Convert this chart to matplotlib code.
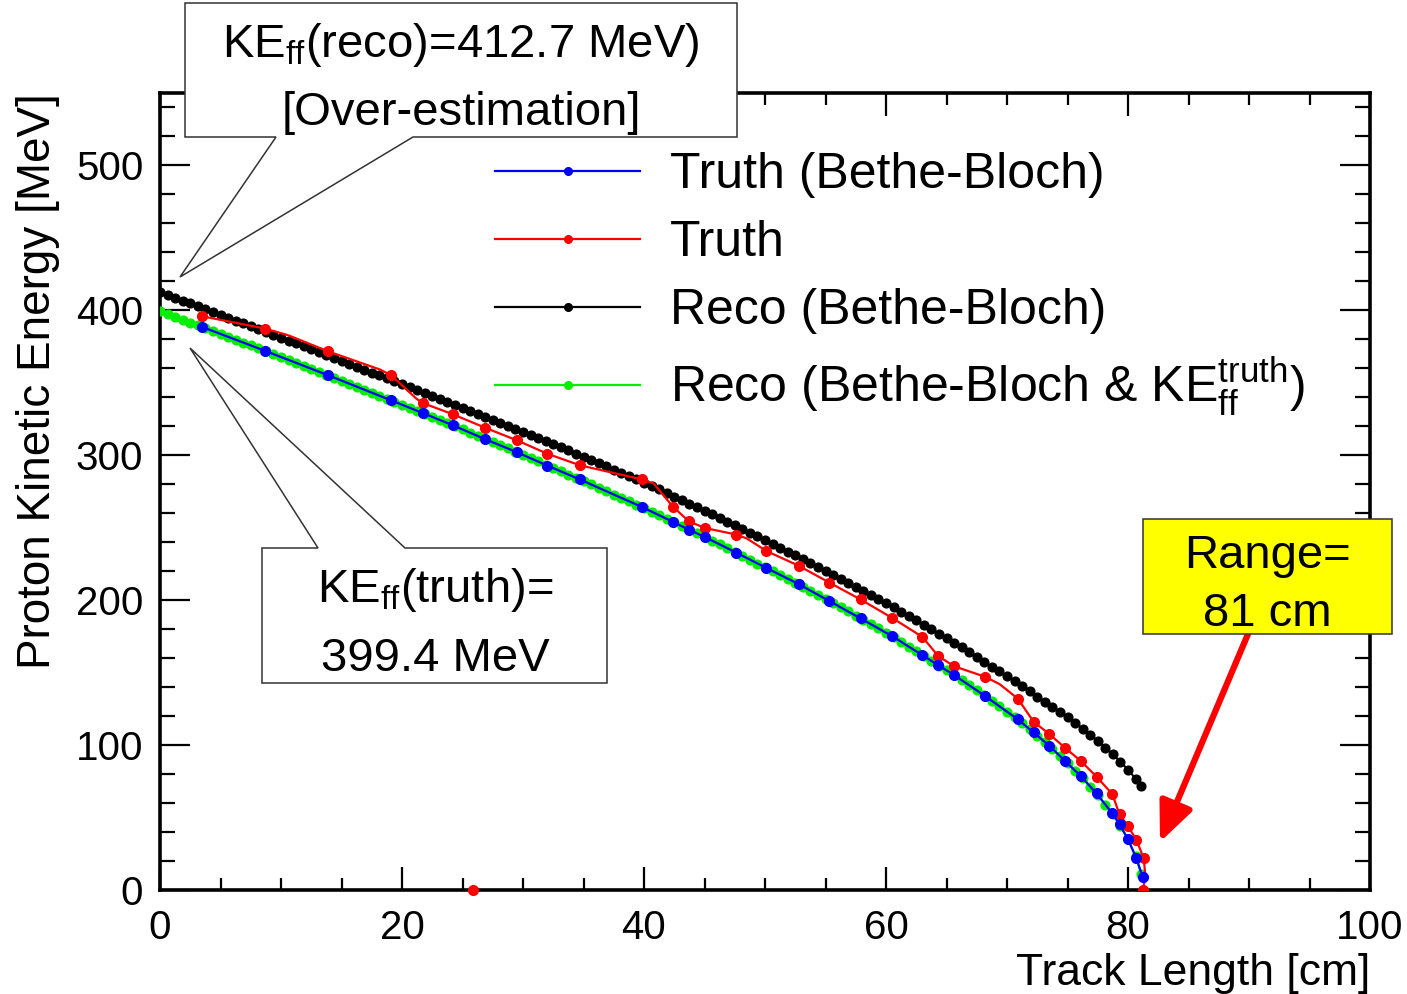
import numpy as np
import matplotlib
matplotlib.use("Agg")
import matplotlib.pyplot as plt
from matplotlib.patches import Polygon
from matplotlib.lines import Line2D
from matplotlib.ticker import MultipleLocator

plt.rcParams['font.family'] = ['Liberation Sans', 'DejaVu Sans']
plt.rcParams['mathtext.fontset'] = 'custom'
plt.rcParams['mathtext.rm'] = 'Liberation Sans'
plt.rcParams['mathtext.it'] = 'Liberation Sans:italic'

# reco hit positions [cm] (shared by the two dense Bethe-Bloch curves)
x_reco = [0.0, 0.62, 1.25, 1.88, 2.5, 3.12, 3.75, 4.38,
          5.0, 5.62, 6.25, 6.88, 7.5, 8.12, 8.75, 9.38,
          10.0, 10.62, 11.25, 11.88, 12.5, 13.12, 13.75, 14.38,
          15.0, 15.62, 16.25, 16.88, 17.5, 18.12, 18.75, 19.38,
          20.0, 20.62, 21.25, 21.88, 22.5, 23.12, 23.75, 24.38,
          25.0, 25.62, 26.25, 26.88, 27.5, 28.12, 28.75, 29.38,
          30.0, 30.62, 31.25, 31.88, 32.5, 33.12, 33.75, 34.38,
          35.0, 35.62, 36.25, 36.88, 37.5, 38.12, 38.75, 39.38,
          40.0, 40.62, 41.25, 41.88, 42.5, 43.12, 43.75, 44.38,
          45.0, 45.62, 46.25, 46.88, 47.5, 48.12, 48.75, 49.38,
          50.0, 50.62, 51.25, 51.88, 52.5, 53.12, 53.75, 54.38,
          55.0, 55.62, 56.25, 56.88, 57.5, 58.12, 58.75, 59.38,
          60.0, 60.62, 61.25, 61.88, 62.5, 63.12, 63.75, 64.38,
          65.0, 65.62, 66.25, 66.88, 67.5, 68.12, 68.75, 69.38,
          70.0, 70.62, 71.25, 71.88, 72.5, 73.12, 73.75, 74.38,
          75.0, 75.62, 76.25, 76.88, 77.5, 78.12, 78.75, 79.38,
          80.0, 80.62, 81.1]

# Reco (Bethe-Bloch), starting from KE_ff(reco) = 412.7 MeV
ke_reco_bb = [412.7, 410.7, 408.8, 406.8, 404.9, 402.9, 400.9, 399.0,
              397.0, 395.0, 393.0, 391.1, 389.1, 387.1, 385.2, 383.2,
              381.2, 379.2, 377.2, 375.2, 373.2, 371.2, 369.2, 367.2,
              365.2, 363.2, 361.2, 359.1, 357.1, 355.1, 353.1, 351.0,
              349.0, 347.0, 345.0, 342.9, 340.9, 338.9, 336.9, 334.8,
              332.8, 330.7, 328.7, 326.6, 324.5, 322.4, 320.4, 318.3,
              316.2, 314.1, 311.9, 309.8, 307.6, 305.5, 303.3, 301.2,
              299.0, 296.8, 294.6, 292.3, 290.1, 287.9, 285.7, 283.4,
              281.2, 278.8, 276.4, 273.9, 271.5, 269.1, 266.7, 264.2,
              261.8, 259.3, 256.7, 254.2, 251.7, 249.1, 246.6, 244.0,
              241.5, 238.9, 236.2, 233.5, 230.9, 228.3, 225.6, 223.0,
              220.3, 217.5, 214.7, 211.9, 209.2, 206.4, 203.6, 200.8,
              198.0, 195.0, 192.0, 189.0, 186.0, 183.0, 180.0, 177.0,
              174.0, 170.7, 167.4, 164.1, 160.8, 157.4, 154.1, 150.8,
              147.5, 144.0, 140.5, 137.0, 133.5, 130.0, 126.5, 123.0,
              119.5, 115.5, 111.4, 107.2, 102.8, 98.3, 93.6, 88.4,
              83.0, 76.9, 72.0]

# Reco (Bethe-Bloch & KE_ff truth), starting from 399.4 MeV
ke_reco_bb_truth = [399.4, 397.4, 395.5, 393.5, 391.6, 389.7, 387.7, 385.8,
                    383.8, 381.8, 379.8, 377.8, 375.8, 373.8, 371.8, 369.8,
                    367.8, 365.8, 363.7, 361.7, 359.7, 357.6, 355.6, 353.5,
                    351.5, 349.4, 347.4, 345.3, 343.2, 341.1, 339.1, 337.0,
                    334.9, 332.8, 330.7, 328.5, 326.4, 324.3, 322.2, 320.0,
                    317.9, 315.7, 313.5, 311.3, 309.1, 306.9, 304.7, 302.5,
                    300.3, 298.0, 295.8, 293.5, 291.3, 289.0, 286.7, 284.5,
                    282.2, 279.9, 277.6, 275.2, 272.9, 270.6, 268.3, 265.9,
                    263.6, 261.1, 258.6, 256.1, 253.7, 251.2, 248.7, 246.2,
                    243.7, 241.1, 238.5, 235.8, 233.2, 230.6, 227.9, 225.3,
                    222.7, 220.0, 217.3, 214.5, 211.8, 209.1, 206.4, 203.6,
                    200.9, 198.0, 195.1, 192.2, 189.3, 186.3, 183.4, 180.5,
                    177.6, 174.4, 171.1, 167.9, 164.6, 161.4, 158.1, 154.9,
                    151.6, 148.3, 144.9, 141.4, 137.9, 134.3, 130.6, 126.9,
                    123.1, 119.2, 115.1, 110.8, 106.4, 101.9, 97.3, 92.5,
                    87.4, 82.4, 77.2, 71.4, 65.5, 59.0, 52.3, 44.2,
                    35.0, 23.2, 11.0]

# truth trajectory points [cm]
x_truth = [3.5, 8.7, 13.9, 19.1, 21.7, 24.2, 26.9, 29.5, 32.0, 34.7,
           39.8, 42.4, 43.7, 45.0, 47.6, 50.1, 52.8, 55.3, 57.9, 60.5,
           63.0, 64.3, 65.6, 68.2, 70.9, 72.2, 73.5, 74.8, 76.1, 77.4,
           78.7, 79.3, 80.0, 80.7, 81.2]

# Truth (Bethe-Bloch)
ke_truth_bb = [388.5, 372.0, 355.2, 337.9, 329.2, 320.7, 311.0, 302.1, 292.9, 283.3,
               264.4, 254.0, 248.7, 243.7, 232.9, 222.3, 211.0, 199.5, 187.4, 175.2,
               162.1, 155.2, 148.5, 133.8, 117.7, 108.7, 99.5, 89.0, 78.6, 66.6,
               52.9, 45.3, 35.0, 21.8, 9.2]

# Truth
x_true = [3.5, 8.7, 13.9, 19.1, 21.7, 24.2, 26.9, 29.5, 32.0, 34.7,
          39.8, 42.4, 43.7, 45.0, 47.6, 50.1, 52.8, 55.3, 57.9, 60.5,
          63.0, 64.3, 65.6, 68.2, 70.9, 72.2, 73.5, 74.8, 76.1, 77.4,
          78.7, 79.3, 80.0, 80.7, 81.3, 81.2]
ke_true = [395.9, 387.4, 371.7, 355.2, 336.1, 328.3, 318.9, 310.3, 301.1, 293.1,
           283.4, 264.4, 254.5, 249.9, 245.3, 234.0, 223.7, 212.2, 200.5, 187.8,
           174.7, 161.6, 154.5, 147.1, 132.0, 116.1, 107.6, 98.1, 89.0, 78.2,
           66.2, 52.2, 44.1, 34.5, 21.8, 0.0]
# the truth curve as drawn (includes bends between markers)
x_true_line = [3.5, 8.7, 10.6, 13.9, 18.2, 19.1, 21.2, 21.7, 24.2, 26.9, 29.5,
               32.0, 34.7, 39.8, 40.8, 42.4, 43.7, 45.0, 47.6, 48.5, 50.1,
               52.8, 55.3, 57.9, 60.5, 63.0, 64.3, 65.6, 68.2, 69.4, 70.9,
               72.2, 73.5, 74.8, 76.1, 77.4, 78.7, 79.3, 80.0, 80.7, 81.3,
               81.45, 81.2]
ke_true_line = [395.9, 387.4, 382.8, 371.7, 359.1, 355.2, 339.0, 336.1, 328.3, 318.9, 310.3,
                301.1, 293.1, 283.4, 280.5, 264.4, 254.5, 249.9, 245.3, 242.6, 234.0,
                223.7, 212.2, 200.5, 187.8, 174.7, 161.6, 154.5, 147.1, 142.0, 132.0,
                116.1, 107.6, 98.1, 89.0, 78.2, 66.2, 52.2, 44.1, 34.5, 21.8,
                8.5, 0.0]
# isolated truth point at zero energy
x_true_zero = [25.9]
ke_true_zero = [0.0]

labels = ['Truth (Bethe-Bloch)', 'Truth', 'Reco (Bethe-Bloch)',
          r'Reco (Bethe-Bloch & KE$_{\mathrm{ff}}^{\mathrm{truth}}$)']

W, H = 1407, 994


def fx(p):
    return p / W


def fy(p):
    return 1 - p / H


fig = plt.figure(figsize=(W / 100, H / 100), dpi=100)
ax = fig.add_axes([fx(160), fy(890), fx(1370) - fx(160), fy(93) - fy(890)])

ax.plot(x_reco, ke_reco_bb, '-o', color='black', lw=1.5, ms=6.3, zorder=3)
ax.plot(x_reco, ke_reco_bb_truth, '-o', color='#00ee00', lw=1.5, ms=6.3, zorder=3)
ax.plot(x_true_line, ke_true_line, '-', color='red', lw=1.6, zorder=4)
ax.plot(x_true, ke_true, 'o', color='red', ms=7, zorder=4)
ax.plot(x_truth, ke_truth_bb, '-o', color='blue', lw=1.6, ms=7, zorder=5)
ax.plot(x_true_zero, ke_true_zero, 'o', color='red', ms=7, zorder=6, clip_on=False)

ax.set_xlim(0, 100)
ax.set_ylim(0, 550)
ax.xaxis.set_major_locator(MultipleLocator(20))
ax.xaxis.set_minor_locator(MultipleLocator(5))
ax.yaxis.set_major_locator(MultipleLocator(100))
ax.yaxis.set_minor_locator(MultipleLocator(20))
ax.tick_params(axis='both', which='both', direction='in', top=True, right=True,
               width=1.6, labelsize=29)
ax.tick_params(axis='x', which='major', length=16.5, pad=14)
ax.tick_params(axis='x', which='minor', length=8.5)
ax.tick_params(axis='y', which='major', length=21.5, pad=12)
ax.tick_params(axis='y', which='minor', length=11)
for s in ax.spines.values():
    s.set_linewidth(2.6)

fig.text(fx(1370), fy(985), 'Track Length [cm]', ha='right', va='baseline', fontsize=32)
fig.text(fx(50), fy(93), 'Proton Kinetic Energy [MeV]', ha='right', va='baseline',
         rotation=90, fontsize=33, rotation_mode='anchor')

# legend
handles = [Line2D([], [], color=c, lw=1.6, marker='o', ms=5.5)
           for c in ['blue', 'red', 'black', '#00ee00']]
ax.legend(handles, labels, loc='upper left', bbox_to_anchor=(fx(495), fy(152)),
          bbox_transform=fig.transFigure, frameon=False, fontsize=36,
          handlelength=2.9, handletextpad=0.6, labelspacing=0.44,
          borderpad=0, borderaxespad=0)

# callout boxes
reco_box = [(185, 3), (737, 3), (737, 137), (413, 137), (180, 277), (276, 137), (185, 137)]
truth_box = [(262, 548), (318, 548), (190, 348), (405, 548), (607, 548), (607, 683), (262, 683)]
range_box = [(1143, 519), (1392, 519), (1392, 634), (1143, 634)]
for pts, fc in [(reco_box, 'white'), (truth_box, 'white'), (range_box, '#ffff00')]:
    fig.add_artist(Polygon([(fx(a), fy(b)) for a, b in pts], closed=True,
                           transform=fig.transFigure, facecolor=fc,
                           edgecolor='#333333', lw=1.1, zorder=10))

txt = dict(ha='center', va='baseline', fontsize=34, zorder=11)
fig.text(fx(461), fy(57), r'KE$_{\mathrm{ff}}$(reco)=412.7 MeV)', **txt)
fig.text(fx(461), fy(125), '[Over-estimation]', **txt)
fig.text(fx(435), fy(602), r'KE$_{\mathrm{ff}}$(truth)=', **txt)
fig.text(fx(435), fy(671), '399.4 MeV', **txt)
fig.text(fx(1267), fy(568), 'Range=', **txt)
fig.text(fx(1267), fy(626), '81 cm', **txt)

ax.annotate('', xy=(fx(1160), fy(842)), xytext=(fx(1248), fy(634)),
            xycoords='figure fraction', textcoords='figure fraction',
            arrowprops=dict(arrowstyle='-|>,head_length=0.8,head_width=0.35',
                            color='red', lw=4.5, mutation_scale=30, shrinkA=0, shrinkB=0),
            zorder=12)

fig.savefig('out.png', dpi=100)
